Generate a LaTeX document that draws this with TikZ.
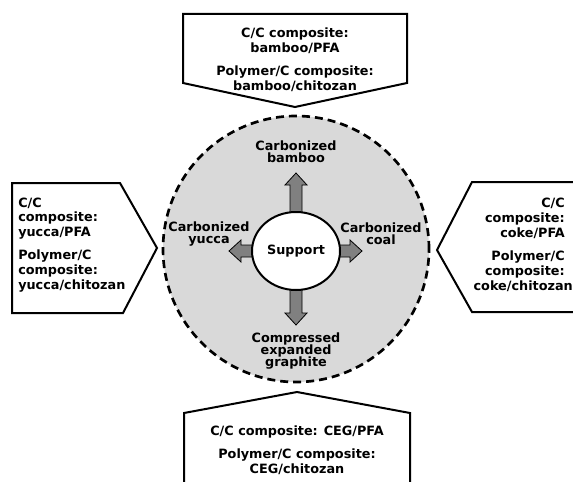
\documentclass[tikz,border=0pt]{standalone}
\usepackage{fontspec}
\setmainfont{DejaVu Sans}
\usetikzlibrary{shapes.geometric}

\begin{document}
\begin{tikzpicture}[x=0.75pt, y=-0.75pt,
			font=\bfseries\fontsize{9.6}{11.2}\selectfont,
			box/.style={
				draw=black,
				line width=1.5pt,
				fill=white},
			boxtext/.style={
				inner sep=0pt,
				align=center},
			inlabel/.style={
				inner sep=0pt,
				align=center,
				font=\bfseries\fontsize{9.6}{9.3}\selectfont},
			blockarrow/.style={
				draw=black,
				line width=0.6pt,
				fill=black!50},
			support/.style={
				ellipse,
				draw=black,
				line width=1.5pt,
				fill=white,
				inner sep=0pt,
				minimum width=66pt,
				minimum height=58.5pt}]
			\useasboundingbox (0, 0) rectangle (573, 481);
			\draw[line width=2pt, dash pattern=on 6pt off 3.75pt, fill=black!15]
				(296, 249) circle [radius = 99.75pt];
			% block arrows out of the support
			\coordinate (hub) at (296, 251);
			\foreach \ang/\len in {90/78, 270/74, 180/67, 0/66}
				\filldraw[blockarrow, shift={(hub)}, rotate=\ang]
					(0, -6) -- (\len-12, -6) -- (\len-12, -11) -- (\len, 0)
					-- (\len-12, 11) -- (\len-12, 6) -- (0, 6) -- cycle;
			\node[support] (support) at (hub) {Support};
			\node[inlabel] (bamboo) at (296, 152) {Carbonized\\bamboo};
			\node[inlabel] (yucca) at (209, 234) {Carbonized\\yucca};
			\node[inlabel] (coal) at (381, 234) {Carbonized\\coal};
			\node[inlabel] (graphite) at (296, 351) {Compressed\\expanded\\graphite};
			% the four boxes
			\draw[box] (183, 14) -- (407, 14) -- (407, 83) -- (295, 107) -- (183, 83) -- cycle;
			\draw[box] (12, 183) -- (120, 183) -- (157, 248) -- (123, 313) -- (12, 313) -- cycle;
			\draw[box] (580, 182) -- (472, 182) -- (437, 250) -- (472, 312) -- (580, 312);
			\draw[box] (184, 490) -- (184, 413) -- (297, 392) -- (410, 413) -- (410, 490);
			\node[boxtext] (topbox) at (295, 60)
				{C/C composite:\\bamboo/PFA\\[6pt]Polymer/C composite:\\bamboo/chitozan};
			\node[boxtext, align=left, anchor=west] (leftbox) at (18, 245)
				{C/C\\composite:\\yucca/PFA\\[6pt]Polymer/C\\composite:\\yucca/chitozan};
			\node[boxtext, align=right, anchor=east] (rightbox) at (565, 245)
				{C/C\\composite:\\coke/PFA\\[6pt]Polymer/C\\composite:\\coke/chitozan\kern-6pt};
			\node[boxtext] (bottombox) at (297, 450)
				{C/C composite: CEG/PFA\\[6pt]Polymer/C composite:\\CEG/chitozan};
\end{tikzpicture}
\end{document}
